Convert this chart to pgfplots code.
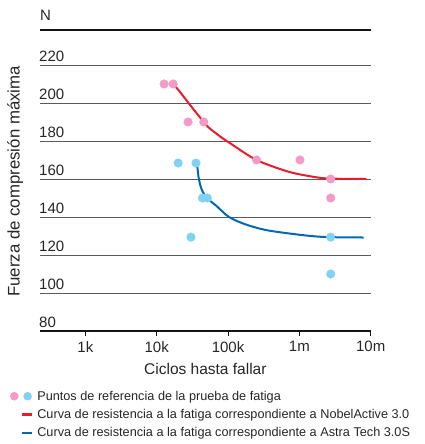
\documentclass[border=0pt]{standalone}
\usepackage{fontspec}
\setmainfont{Liberation Sans}
\usepackage{pgfplots}
\pgfplotsset{compat=1.18}
\definecolor{pinkc}{RGB}{243,155,196}
\definecolor{lbluec}{RGB}{128,210,245}
\definecolor{redc}{RGB}{232,28,44}
\definecolor{dbluec}{RGB}{0,104,180}
\definecolor{gridc}{RGB}{90,90,90}
\definecolor{framec}{RGB}{20,20,20}
\begin{document}
\begin{tikzpicture}
\path[use as bounding box] (0pt,0pt) rectangle (424pt,-444pt);
\begin{axis}[
  name=ax,
  at={(40pt,-331pt)}, anchor=south west,
  scale only axis, width=330.7pt, height=301pt,
  xmode=log, xmin=231, xmax=1e7,
  ymin=80, ymax=238.4,
  ytick={80,100,...,220},
  xtick={1e3,1e4,1e5,1e6,1e7},
  xticklabels={1k,10k,100k,1m,10m},
  minor x tick style={draw=none},
  axis line style={draw=none},
  ymajorgrids, grid style={gridc, line width=0.9pt},
  xtick pos=bottom, ytick pos=left,
  tick align=outside,
  major tick length=5pt,
  x tick style={framec, line width=0.9pt},
  y tick style={draw=none},
  tick label style={font=\fontsize{15}{17}\selectfont, text=black!85},
  /pgf/number format/assume math mode=true,
  yticklabel style={anchor=south west, inner sep=0pt, xshift=4pt, yshift=3.4pt},
  xticklabel style={anchor=north, inner sep=0pt, yshift=-5pt},
  xlabel={Ciclos hasta fallar},
  xlabel style={at={(axis description cs:0.5,-0.1255)}, anchor=center, font=\fontsize{15.5}{17}\selectfont, text=black!85},
  ylabel={Fuerza de compresión máxima},
  ylabel style={at={(axis description cs:-0.075,0.497)}, anchor=center, font=\fontsize{16.8}{18}\selectfont, text=black!85},
  clip=false,
  legend style={at={(axis description cs:-0.0907,-0.189)}, anchor=north west, draw=none, fill=none, inner sep=0pt, outer sep=0pt,
    font=\fontsize{12.7}{14}\selectfont, text=black!85, row sep=1.6pt,
    nodes={inner sep=3pt}},
  legend cell align=left,
]
\addlegendimage{legend image code/.code={\path[draw=none,fill=none] (0pt,-4pt) rectangle (24pt,4pt); \fill[pinkc,draw=none] (4pt,0pt) circle (4.3pt); \fill[lbluec,draw=none] (17.3pt,0pt) circle (4.3pt);}}
\addlegendentry{Puntos de referencia de la prueba de fatiga}
\addlegendimage{legend image code/.code={\path[draw=none,fill=none] (0pt,-4pt) rectangle (24pt,4pt); \draw[redc, line width=2.6pt] (11.7pt,0pt) -- (21.7pt,0pt);}}
\addlegendentry{Curva de resistencia a la fatiga correspondiente a NobelActive 3.0}
\addlegendimage{legend image code/.code={\path[draw=none,fill=none] (0pt,-4pt) rectangle (24pt,4pt); \draw[dbluec, line width=2.6pt] (11.7pt,0pt) -- (21.7pt,0pt);}}
\addlegendentry{Curva de resistencia a la fatiga correspondiente a Astra Tech 3.0S}

% frame lines (top and bottom)
\addplot[framec, line width=2.2pt, forget plot] coordinates {(231,238.4) (10000000,238.4)};
\addplot[framec, line width=2.1pt, forget plot] coordinates {(231,80) (10000000,80)};

\addplot[redc, line width=2pt, smooth, forget plot] coordinates {
 (17800,209) (20400,206.6) (27900,200) (38300,193.5) (52400,187.4) (79400,182.1)
 (109000,178.6) (251000,170) (708000,163.8) (1660000,161) (2750000,160.2) (8710000,160)
};
\addplot[dbluec, line width=2pt, smooth, forget plot] coordinates {
 (36200,168.4) (37400,165.3) (39000,160) (42500,154.7) (49700,150.2) (67900,146)
 (103000,140) (173000,136.2) (323000,133.3) (631000,131.6) (1445000,130) (2630000,129.4) (7940000,129.2)
};
\addplot[pinkc, only marks, mark=*, mark size=4.3pt, mark options={draw=pinkc, fill=pinkc}, forget plot] coordinates {
 (12700,210) (17000,210) (27500,190) (45700,190) (251000,170) (1020000,170) (2750000,160) (2750000,150)
};
\addplot[lbluec, only marks, mark=*, mark size=4.3pt, mark options={draw=lbluec, fill=lbluec}, forget plot] coordinates {
 (20000,168.4) (35500,168.4) (43700,150) (51300,150) (30200,129.4) (2750000,129.4) (2750000,110)
};
\end{axis}
\node[anchor=west, inner sep=0pt, outer sep=0pt, text=framec] at (ax.north west) {\rule[-1.1pt]{330.7pt}{2.2pt}};
\node[anchor=west, inner sep=0pt, outer sep=0pt, text=framec] at (ax.south west) {\rule[-1.05pt]{330.7pt}{2.1pt}};
\node[anchor=south west, inner sep=0pt, font=\fontsize{15}{17}\selectfont, text=black!85] at ([yshift=9pt]ax.north west) {N};
\end{tikzpicture}
\end{document}
